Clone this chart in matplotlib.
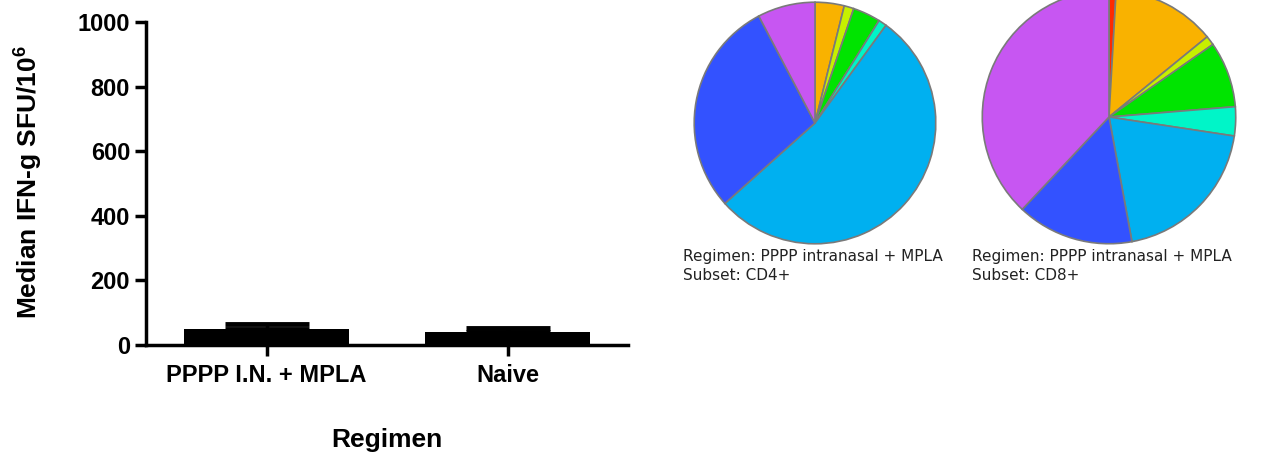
import matplotlib
matplotlib.use('Agg')

import matplotlib.pyplot as plt

plt.rcParams['font.family'] = 'Liberation Sans'
plt.rcParams['mathtext.fontset'] = 'custom'
plt.rcParams['mathtext.rm'] = 'Liberation Sans'
plt.rcParams['mathtext.bf'] = 'Liberation Sans:bold'

# bar chart data
regimens = ["PPPP I.N. + MPLA", "Naive"]
medians = [50, 40]
upper_err = [15, 12]
y_ticks = [0, 200, 400, 600, 800, 1000]

# pie data (percent of responding cells), clockwise from top
slice_colors = ["#ff2a00", "#f9b200", "#c6f000", "#00e400", "#00f5c8",
                "#00b0f0", "#3352ff", "#c756f2"]
cd4_parts = [0.0, 3.9, 1.3, 3.7, 1.1, 53.4, 28.9, 7.7]
cd8_parts = [0.9, 13.2, 1.2, 8.4, 3.7, 19.7, 14.9, 38.0]
pie_captions = ["Regimen: PPPP intranasal + MPLA\nSubset: CD4+",
                "Regimen: PPPP intranasal + MPLA\nSubset: CD8+"]

W, H = 1262, 459
fig = plt.figure(figsize=(W / 100, H / 100), dpi=100)

# ---- bar chart ----
ax = fig.add_axes([146 / W, 1 - 345 / H, (628 - 146) / W, (345 - 22) / H])
xpos = list(range(len(regimens)))
ax.bar(xpos, medians, width=0.685, color="black", zorder=2)
ax.errorbar(xpos, medians, yerr=[[0, 0], upper_err], fmt="none", ecolor="black",
            elinewidth=2.5, capsize=30, capthick=3.5, zorder=3)
ax.set_xlim(-0.5, 1.5)
ax.set_ylim(0, 1000)
ax.set_yticks(y_ticks)
ax.set_xticks(xpos)
ax.set_xticklabels(regimens)
for s in ["top", "right"]:
    ax.spines[s].set_visible(False)
for s in ["left", "bottom"]:
    ax.spines[s].set_linewidth(2.5)
ax.tick_params(axis="both", width=2.5, length=8, labelsize=17)
ax.tick_params(axis="x", pad=6)
for lbl in ax.get_xticklabels() + ax.get_yticklabels():
    lbl.set_fontweight("bold")
ax.set_ylabel(r"Median IFN-g SFU/10$^{\mathbf{6}}$", fontsize=19,
              fontweight="bold")
ax.yaxis.set_label_coords(-102 / (628 - 146), 0.505)
fig.text(387 / W, 1 - 440 / H, "Regimen", ha="center", va="center",
         fontsize=19, fontweight="bold")

# ---- pies ----
pies = [(815, 123, 122, cd4_parts, 683), (1109, 117, 128, cd8_parts, 972)]
for (cx, cy, r, parts, tx), cap in zip(pies, pie_captions):
    pax = fig.add_axes([(cx - r) / W, 1 - (cy + r) / H, 2 * r / W, 2 * r / H])
    pax.pie(parts, colors=slice_colors, startangle=90, counterclock=False,
            wedgeprops=dict(edgecolor="#7a7a7a", linewidth=1.2))
    pax.set_xlim(-1.01, 1.01)
    pax.set_ylim(-1.01, 1.01)
    pax.axis("off")
    fig.text(tx / W, 1 - 249 / H, cap, ha="left", va="top",
             family="DejaVu Sans", fontsize=11, color="#222222",
             linespacing=1.3)

fig.savefig("out.png", dpi=100)
